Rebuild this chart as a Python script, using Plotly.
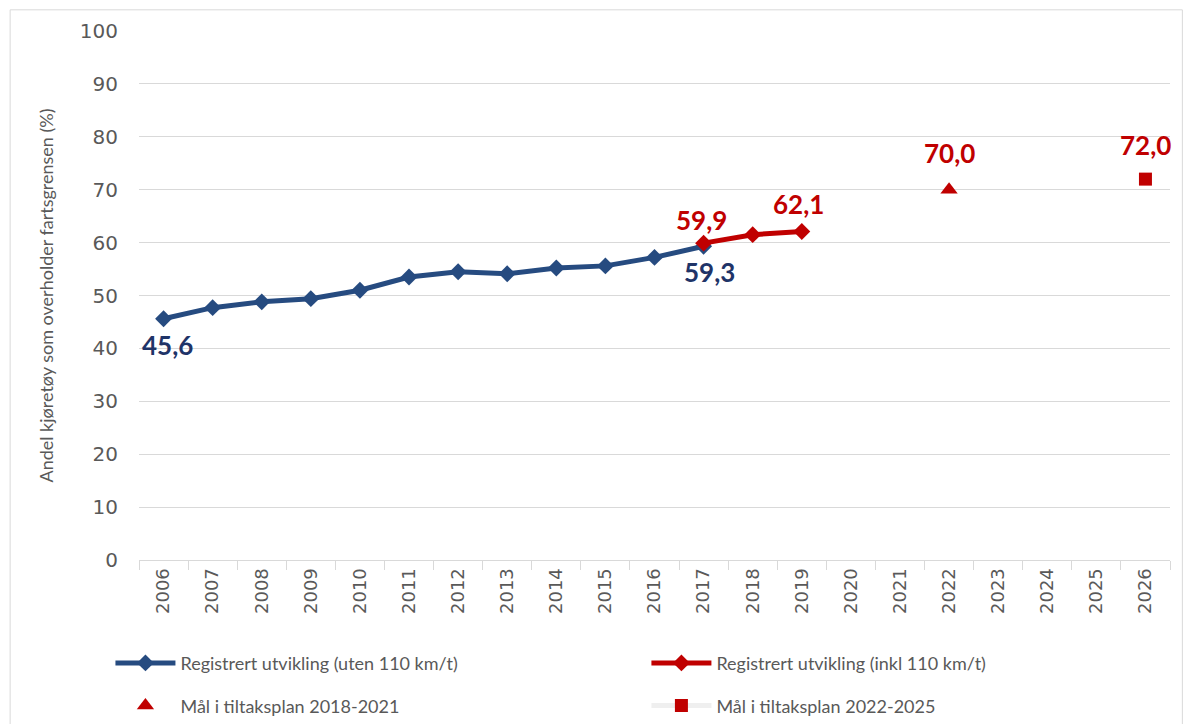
import plotly.graph_objects as go

years = [str(y) for y in range(2006, 2027)]

uten_years = [str(y) for y in range(2006, 2018)]
uten_vals = [45.6, 47.7, 48.8, 49.4, 51.0, 53.5, 54.5, 54.1, 55.2, 55.6, 57.2, 59.3]

inkl_years = ["2017", "2018", "2019"]
inkl_vals = [59.9, 61.5, 62.1]

maal1_years = ["2022"]
maal1_vals = [70.0]
maal2_years = ["2026"]
maal2_vals = [72.0]

BLUE = "#264B80"
NAVY = "#1F3468"
RED = "#C00000"
GREY = "#595959"
LABEL_FONT = "Lato, Open Sans, sans-serif"


def fmt(v):
    return f"{v:.1f}".replace(".", ",")


fig = go.Figure()
fig.add_trace(go.Scatter(
    x=uten_years, y=uten_vals, mode="lines+markers",
    name="Registrert utvikling (uten 110 km/t)",
    line=dict(color=BLUE, width=5),
    marker=dict(symbol="diamond", size=13, color=BLUE),
    legend="legend",
))
fig.add_trace(go.Scatter(
    x=inkl_years, y=inkl_vals, mode="lines+markers",
    name="Registrert utvikling (inkl 110 km/t)",
    line=dict(color=RED, width=5),
    marker=dict(symbol="diamond", size=13, color=RED),
    legend="legend2",
))
fig.add_trace(go.Scatter(
    x=maal1_years, y=maal1_vals, mode="markers",
    name="Mål i tiltaksplan 2018-2021",
    marker=dict(symbol="triangle-up", size=15, color=RED),
    legend="legend3",
))
fig.add_trace(go.Scatter(
    x=maal2_years, y=maal2_vals, mode="lines+markers",
    name="Mål i tiltaksplan 2022-2025",
    line=dict(color="#EFEFEF", width=5),
    marker=dict(symbol="square", size=13, color=RED),
    legend="legend4",
))

# data labels (category index used for x)
labels = [
    (uten_years[0], uten_vals[0], NAVY, 4, -26),
    (uten_years[-1], uten_vals[-1], NAVY, 6, -26),
    (inkl_years[0], inkl_vals[0], RED, -2, 23),
    (inkl_years[-1], inkl_vals[-1], RED, -3, 27),
    (maal1_years[0], maal1_vals[0], RED, 0, 37),
    (maal2_years[0], maal2_vals[0], RED, 0, 34),
]
for x, y, c, dx, dy in labels:
    fig.add_annotation(
        x=years.index(x), y=y, text=fmt(y), showarrow=False,
        xshift=dx, yshift=dy,
        font=dict(family=LABEL_FONT, size=26, color=c, weight="bold"),
    )

fig.add_shape(
    type="rect", xref="paper", yref="paper",
    x0=-0.125, x1=1.012, y0=-0.4, y1=1.04,
    line=dict(color="#D9D9D9", width=1), layer="below",
)

leg = dict(
    orientation="h", xanchor="left", yanchor="middle",
    xref="container", yref="container",
    font=dict(family=LABEL_FONT, size=18, color=GREY),
    itemwidth=60, bgcolor="rgba(0,0,0,0)",
)
col1, col2 = 0.0932, 0.5455
row1, row2 = 0.084, 0.025

fig.update_layout(
    width=1185, height=724,
    margin=dict(l=139, r=15, t=31, b=164),
    plot_bgcolor="white", paper_bgcolor="white",
    showlegend=True,
    legend=dict(leg, x=col1, y=row1),
    legend2=dict(leg, x=col2, y=row1),
    legend3=dict(leg, x=col1, y=row2),
    legend4=dict(leg, x=col2, y=row2),
    xaxis=dict(
        type="category", categoryorder="array", categoryarray=years,
        range=[-0.5, len(years) - 0.5],
        tickangle=-90, tickson="boundaries", ticks="outside", ticklen=9,
        tickcolor="#D9D9D9", showline=True, linecolor="#D9D9D9",
        showgrid=False, automargin=False,
        tickfont=dict(family="DejaVu Sans", size=18, color=GREY),
    ),
    yaxis=dict(
        range=[0, 100], dtick=10, showgrid=True, gridcolor="#D9D9D9",
        zeroline=False, ticks="", ticklabelstandoff=20, automargin=False,
        tickfont=dict(family="DejaVu Sans", size=20, color=GREY),
        title=dict(text="Andel kjøretøy som overholder fartsgrensen (%)",
                   font=dict(family=LABEL_FONT, size=18, color=GREY),
                   standoff=21),
    ),
)

fig.write_html("out.html", config={"displayModeBar": False},
               post_script="document.body.style.margin='0';")
